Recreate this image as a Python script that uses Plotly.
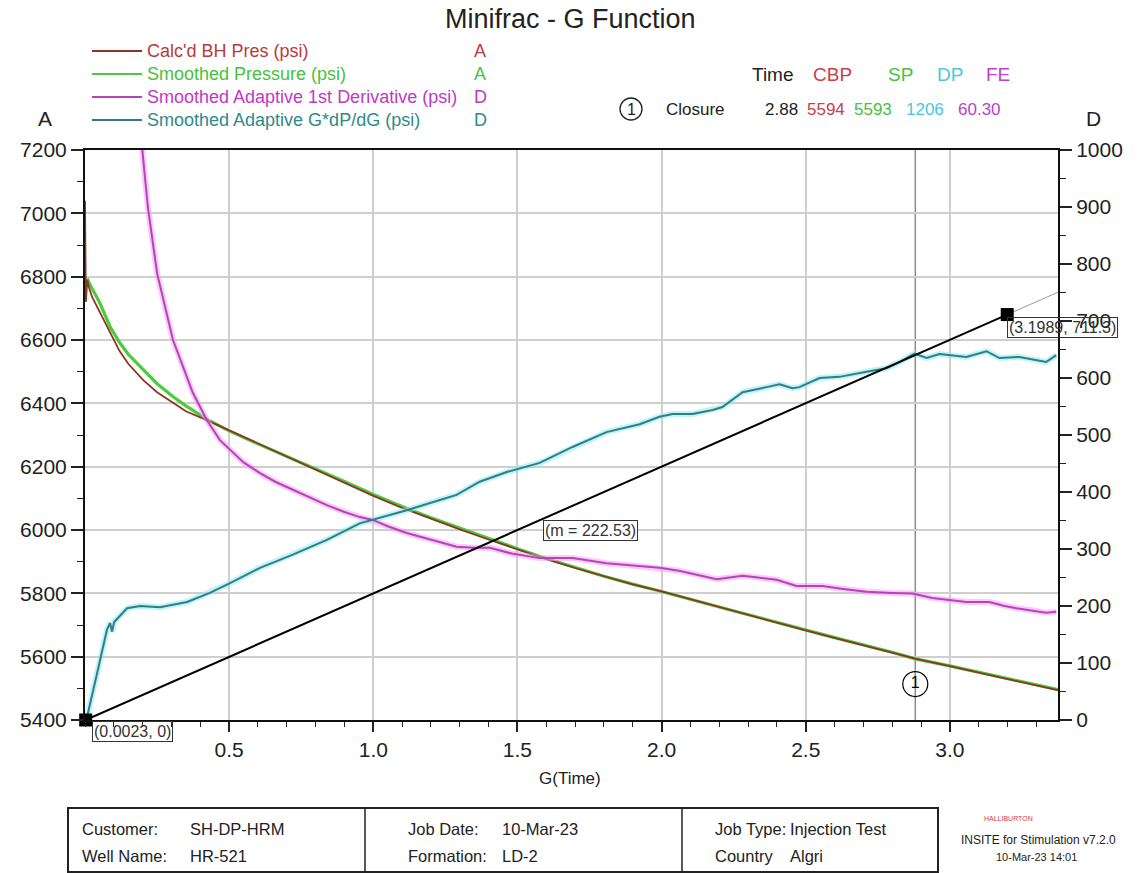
import plotly.graph_objects as go

# ---- series data -------------------------------------------------------
# Calc'd BH pressure (psi, left axis A)
g_bhp = [0.0, 0.003, 0.008, 0.014, 0.025, 0.05, 0.087, 0.12, 0.15, 0.202,
         0.25, 0.306, 0.35, 0.422, 0.5, 0.6, 0.7, 0.8, 0.9, 1.0,
         1.1, 1.2, 1.3, 1.4, 1.5, 1.6, 1.7, 1.8, 1.9, 2.0,
         2.2, 2.4, 2.5, 2.6, 2.8, 2.88, 3.0, 3.2, 3.375]
bhp = [7040, 6720, 6790, 6765, 6735, 6690, 6622, 6565, 6525, 6473,
       6435, 6400, 6375, 6347, 6315, 6272, 6232, 6192, 6150, 6108,
       6070, 6035, 6002, 5970, 5938, 5908, 5880, 5853, 5828, 5806,
       5756, 5707, 5683, 5659, 5613, 5594, 5570, 5530, 5494]

# Smoothed pressure (psi, left axis A)
g_sp = [0.008, 0.015, 0.025, 0.05, 0.087, 0.12, 0.15, 0.202, 0.25, 0.306,
        0.35, 0.422, 0.5, 0.6, 0.7, 0.8, 0.9, 1.0, 1.1, 1.2,
        1.3, 1.4, 1.5, 1.6, 1.7, 1.8, 1.9, 2.0, 2.2, 2.4,
        2.5, 2.6, 2.8, 2.88, 3.0, 3.2, 3.375]
sp = [6795, 6778, 6762, 6720, 6642, 6592, 6555, 6505, 6462, 6421,
      6392, 6350, 6313, 6272, 6233, 6194, 6153, 6112, 6074, 6039,
      6006, 5973, 5941, 5910, 5881, 5854, 5829, 5806, 5757, 5708,
      5684, 5660, 5614, 5593, 5571, 5531, 5496]

# Smoothed adaptive 1st derivative (psi, right axis D)
g_deriv = [0.17, 0.198, 0.218, 0.25, 0.305, 0.374, 0.423, 0.468, 0.503, 0.55,
           0.607, 0.66, 0.721, 0.78, 0.839, 0.9, 0.953, 0.998, 1.05, 1.116,
           1.2, 1.289, 1.35, 1.404, 1.48, 1.577, 1.691, 1.809, 1.9, 1.993,
           2.06, 2.132, 2.191, 2.281, 2.34, 2.399, 2.468, 2.558, 2.63, 2.711,
           2.8, 2.87, 2.939, 3.0, 3.057, 3.137, 3.19, 3.231, 3.29, 3.334, 3.369]
deriv = [1150, 1000, 900, 784, 667, 574, 526, 491, 474, 452,
         433, 418, 404, 390, 377, 365, 356, 351, 340, 328,
         316, 304, 302, 302, 292, 284, 284, 275, 271, 267,
         262, 254, 247, 253, 250, 246, 235, 235, 230, 225,
         223, 222, 214, 211, 207, 207, 200, 196, 192, 188, 190]

# Smoothed adaptive G*dP/dG (psi, right axis D)
g_gdp = [0.0023, 0.007, 0.042, 0.076, 0.087, 0.094, 0.101, 0.146, 0.191, 0.26,
         0.354, 0.433, 0.503, 0.607, 0.721, 0.839, 0.953, 0.998, 1.116, 1.231,
         1.289, 1.369, 1.463, 1.577, 1.636, 1.691, 1.809, 1.865, 1.924, 1.993,
         2.038, 2.107, 2.177, 2.211, 2.281, 2.364, 2.409, 2.454, 2.478, 2.548,
         2.617, 2.711, 2.78, 2.825, 2.877, 2.919, 2.964, 3.057, 3.127, 3.172,
         3.241, 3.334, 3.369]
gdp = [0, 5, 82, 158, 170, 155, 172, 196, 200, 198,
       207, 223, 240, 267, 290, 316, 345, 351, 368, 386,
       395, 418, 435, 451, 465, 479, 505, 512, 519, 532,
       537, 537, 544, 549, 575, 584, 589, 582, 584, 600,
       602, 611, 617, 628, 643, 635, 642, 637, 647, 635,
       637, 628, 640]

# Straight-line fit through the origin of G*dP/dG
fit_g = [0.0023, 3.1989]
fit_v = [0, 711.3]
fit_slope = 222.53
g_max = 3.375

# Closure pick
closure_time = 2.88
closure_cbp = 5594
closure_sp = 5593
closure_dp = 1206
closure_fe = 60.30

x_ticks = [0.5, 1.0, 1.5, 2.0, 2.5, 3.0]

# ---- styling ------------------------------------------------------------
FONT = "Liberation Sans, Arial, sans-serif"
W, H = 1139, 873
ML, MR, MT, MB = 85, 81, 150, 153
PW, PH = W - ML - MR, H - MT - MB

C_BHP = "#8e3426"
C_SP = "#4ccc3c"
C_DER = "#b444b8"
C_GDP = "#2f7f80"


def px(x):
    return (x - ML) / PW


def py(y):
    return (H - MB - y) / PH


def label(text, xp, yp, size, color="#222", xanchor="center", **kw):
    """Free text placed in figure pixels, anchored explicitly."""
    return dict(xref="paper", yref="paper", x=px(xp), y=py(yp), text=text,
                showarrow=False, xanchor=xanchor, yanchor="middle",
                font=dict(family=FONT, size=size, color=color), **kw)


fig = go.Figure()

# glow underlays
fig.add_trace(go.Scatter(x=g_deriv, y=deriv, yaxis="y2", mode="lines",
                         line=dict(color="rgba(245,160,245,0.55)", width=6),
                         hoverinfo="skip", showlegend=False))
fig.add_trace(go.Scatter(x=g_gdp, y=gdp, yaxis="y2", mode="lines",
                         line=dict(color="rgba(140,235,245,0.55)", width=6),
                         hoverinfo="skip", showlegend=False))

fig.add_trace(go.Scatter(x=g_sp, y=sp, mode="lines", name="Smoothed Pressure (psi)",
                         line=dict(color=C_SP, width=3.2), showlegend=False))
fig.add_trace(go.Scatter(x=g_bhp, y=bhp, mode="lines", name="Calc'd BH Pres (psi)",
                         line=dict(color=C_BHP, width=1.8), showlegend=False))
fig.add_trace(go.Scatter(x=g_deriv, y=deriv, yaxis="y2", mode="lines",
                         name="Smoothed Adaptive 1st Derivative (psi)",
                         line=dict(color=C_DER, width=2), showlegend=False))
fig.add_trace(go.Scatter(x=g_gdp, y=gdp, yaxis="y2", mode="lines",
                         name="Smoothed Adaptive G*dP/dG (psi)",
                         line=dict(color=C_GDP, width=2), showlegend=False))

# fit line extension (thin) and fit segment with end handles
ext_v = fit_slope * (g_max - fit_g[0])
fig.add_trace(go.Scatter(x=[fit_g[1], g_max], y=[fit_v[1], ext_v], yaxis="y2",
                         mode="lines", line=dict(color="#9a9a9a", width=1),
                         hoverinfo="skip", showlegend=False))
fig.add_trace(go.Scatter(x=fit_g, y=fit_v, yaxis="y2", mode="lines+markers",
                         line=dict(color="black", width=2),
                         marker=dict(symbol="square", size=13, color="black"),
                         cliponaxis=False, showlegend=False))

# closure marker
fig.add_trace(go.Scatter(x=[closure_time], y=[63], yaxis="y2", mode="markers+text",
                         marker=dict(symbol="circle-open", size=25, color="black",
                                     line=dict(width=1.2, color="black")),
                         text=["1"], textposition="middle center",
                         textfont=dict(family=FONT, size=16, color="black"),
                         showlegend=False))

shapes = [
    dict(type="line", xref="x", yref="paper", x0=closure_time, x1=closure_time,
         y0=0, y1=1, line=dict(color="#8c8c8c", width=1.5), layer="below"),
]

annotations = []

# header title and axis letters
annotations.append(label("Minifrac - G Function", 570, 19, 27))
annotations.append(label("A", 45, 118, 21))
annotations.append(label("D", 1093, 118, 21))

# custom legend
legend_rows = [
    ("Calc'd BH Pres (psi)", "A", C_BHP, "#b83a3a", 51),
    ("Smoothed Pressure (psi)", "A", C_SP, "#48c040", 74),
    ("Smoothed Adaptive 1st Derivative (psi)", "D", C_DER, "#c038c8", 97),
    ("Smoothed Adaptive G*dP/dG (psi)", "D", C_GDP, "#2f8a8a", 120),
]
for text, axis, lcol, tcol, ypix in legend_rows:
    shapes.append(dict(type="line", xref="paper", yref="paper",
                       x0=px(92), x1=px(142), y0=py(ypix), y1=py(ypix),
                       line=dict(color=lcol, width=2)))
    annotations.append(label(text, 145, ypix, 18, tcol, xanchor="left"))
    annotations.append(label(axis, 480, ypix, 18, tcol))

# closure summary table
hdr = [("Time", 773, "#222"), ("CBP", 832, "#c8404a"), ("SP", 900, "#48c040"),
       ("DP", 950, "#48c8e0"), ("FE", 998, "#c040c8")]
for t, xp, c in hdr:
    annotations.append(label(t, xp, 74, 19, c))
row = [("Closure", 695, "#222"), (f"{closure_time:.2f}", 781, "#222"),
       (f"{closure_cbp}", 826, "#c8404a"), (f"{closure_sp}", 873, "#48c040"),
       (f"{closure_dp}", 925, "#48c8e0"), (f"{closure_fe:.2f}", 979, "#c040c8")]
for t, xp, c in row:
    annotations.append(label(t, xp, 109, 17, c))
shapes.append(dict(type="circle", xref="paper", yref="paper",
                   x0=px(620), x1=px(642), y0=py(120), y1=py(98),
                   line=dict(color="#222", width=1.3)))
annotations.append(label("1", 631, 109, 16))

# fit labels
annotations.append(dict(xref="x", yref="y2", x=fit_g[0], y=fit_v[0],
                        xanchor="left", yanchor="top", xshift=6, yshift=-1,
                        text=f"({fit_g[0]}, {fit_v[0]})", showarrow=False,
                        bordercolor="#333", borderwidth=1, borderpad=1,
                        font=dict(family=FONT, size=16, color="#333")))
annotations.append(dict(xref="x", yref="y2", x=fit_g[1], y=fit_v[1],
                        xanchor="left", yanchor="top", xshift=0, yshift=-2,
                        text=f"({fit_g[1]}, {fit_v[1]})", showarrow=False,
                        bordercolor="#333", borderwidth=1, borderpad=1,
                        font=dict(family=FONT, size=16, color="#333")))
annotations.append(dict(xref="x", yref="y2", x=1.752, y=332,
                        xanchor="center", yanchor="middle",
                        text=f"(m = {fit_slope})", showarrow=False,
                        bgcolor="white", bordercolor="#333", borderwidth=1, borderpad=1,
                        font=dict(family=FONT, size=16, color="#333")))

# x axis title
annotations.append(label("G(Time)", 570, 778, 17))

# job information block
shapes.append(dict(type="rect", xref="paper", yref="paper",
                   x0=px(68), x1=px(938), y0=py(872), y1=py(808),
                   line=dict(color="#222", width=2)))
for xd in (365, 682):
    shapes.append(dict(type="line", xref="paper", yref="paper",
                       x0=px(xd), x1=px(xd), y0=py(872), y1=py(808),
                       line=dict(color="#222", width=1.5)))
info = [
    ("Customer:", 80, 829), ("SH-DP-HRM", 188, 829),
    ("Well Name:", 80, 856), ("HR-521", 188, 856),
    ("Job Date:", 406, 829), ("10-Mar-23", 500, 829),
    ("Formation:", 406, 856), ("LD-2", 500, 856),
    ("Job Type:", 713, 829), ("Injection Test", 788, 829),
    ("Country", 713, 856), ("Algri", 788, 856),
]
for t, xp, yp in info:
    annotations.append(label(t, xp, yp, 16.5, xanchor="left"))
annotations.append(label("HALLIBURTON", 1008, 818, 7, "#d04040"))
annotations.append(label("INSITE for Stimulation v7.2.0", 1038, 840, 12))
annotations.append(label("10-Mar-23 14:01", 1036, 857, 11))

tickfont = dict(family=FONT, size=21, color="#222")

fig.update_layout(
    width=W, height=H,
    margin=dict(l=ML, r=MR, t=MT, b=MB, pad=0),
    paper_bgcolor="white", plot_bgcolor="white",
    showlegend=False,
    shapes=shapes,
    annotations=annotations,
    xaxis=dict(range=[0, g_max], tickmode="array", tickvals=x_ticks,
               ticktext=[f"{v:.1f}" for v in x_ticks],
               ticks="outside", ticklen=10, tickwidth=1.5, tickcolor="#222",
               minor=dict(tickmode="linear", tick0=0, dtick=0.1, ticks="outside",
                          ticklen=5, tickwidth=1.2, tickcolor="#222", showgrid=False),
               showgrid=True, gridcolor="#cfcfcf", gridwidth=1.5,
               showline=True, linecolor="#111", linewidth=2, mirror=True,
               zeroline=False, tickfont=tickfont),
    yaxis=dict(range=[5400, 7200], tick0=5400, dtick=200,
               ticks="outside", ticklen=12, tickwidth=1.5, tickcolor="#222",
               minor=dict(dtick=100, ticks="outside", ticklen=6, tickwidth=1.2,
                          tickcolor="#222", showgrid=False),
               showgrid=True, gridcolor="#cfcfcf", gridwidth=1.5,
               showline=True, linecolor="#111", linewidth=2,
               zeroline=False, tickfont=tickfont),
    yaxis2=dict(range=[0, 1000], tick0=0, dtick=100, overlaying="y", side="right",
                ticks="outside", ticklen=12, tickwidth=1.5, tickcolor="#222",
                minor=dict(dtick=50, ticks="outside", ticklen=6, tickwidth=1.2,
                           tickcolor="#222", showgrid=False),
                showgrid=False, showline=True, linecolor="#111", linewidth=2,
                zeroline=False, tickfont=tickfont),
)

fig.write_html("out.html")
